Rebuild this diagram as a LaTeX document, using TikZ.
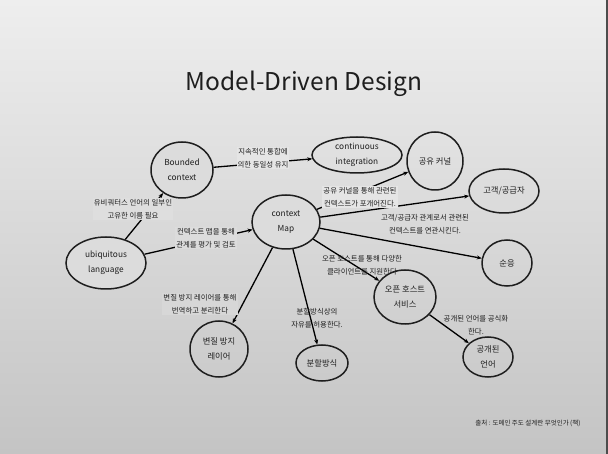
\documentclass[tikz,border=0pt]{standalone}
\usepackage{fontspec}
\setmainfont{Noto Sans CJK KR}
\usetikzlibrary{shapes.geometric, arrows.meta}
\definecolor{bgtop}{RGB}{238,238,238}
\definecolor{bgmid}{RGB}{229,229,229}
\definecolor{bgbot}{RGB}{196,196,196}
\definecolor{bubble}{RGB}{220,220,220}
\definecolor{ink}{RGB}{30,30,30}
\tikzset{
  bub/.style={ellipse, draw=ink, line width=1.5pt, inner sep=0pt, align=center, text=ink, font=\fontsize{8.3}{15}\selectfont},
  note/.style={align=center, inner sep=1pt, text=ink, font=\fontsize{7.4}{13.5}\selectfont},
  >={Stealth[length=5pt,width=4pt]}
}

\begin{document}
\begin{tikzpicture}[x=1pt,y=-1pt,line width=1.3pt]
\useasboundingbox (0,0) rectangle (608,454);
\shade[top color=bgtop, middle color=bgmid, bottom color=bgbot] (0,0) rectangle (608,454);
\fill[black!70] (606,0) rectangle (608,454);

\node[text=ink, font=\fontsize{24.5}{24}\selectfont] (title) at (304,84) {Model-Driven Design};

\node[bub, fill=bubble, minimum width=62pt, minimum height=56pt] (bounded) at (182,170) {Bounded\\context};
\node[bub, minimum width=90pt, minimum height=36pt] (ci) at (357,155) {continuous\\integration};
\node[bub, fill=bubble, minimum width=80pt, minimum height=52pt] (ubiq) at (106,263) {ubiquitous\\language};
\node[bub, fill=bubble, minimum width=68pt, minimum height=54pt] (ctxmap) at (286,222) {context\\Map};

\node[bub, minimum width=56pt, minimum height=58pt] (shared) at (435,161) {공유 커널};
\node[bub, minimum width=70pt, minimum height=44pt] (custsup) at (504,191) {고객/공급자};
\node[bub, minimum width=50pt, minimum height=46pt] (conform) at (507,263) {순응};
\node[bub, minimum width=62pt, minimum height=54pt] (ohs) at (405,297) {오픈 호스트\\서비스};
\node[bub, minimum width=50pt, minimum height=40pt] (publang) at (488,357) {공개된\\언어};
\node[bub, minimum width=52pt, minimum height=36pt] (sepways) at (322,363) {분할방식};
\node[bub, minimum width=58pt, minimum height=56pt] (acl) at (219,349) {변질 방지\\레이어};

\draw[->] (ubiq) -- (bounded);
\draw[->] (ubiq) -- (ctxmap);
\draw[->] (bounded) -- (ci);
\draw[->] (ctxmap) -- (shared);
\draw[->] (ctxmap) -- (custsup);
\draw[->] (ctxmap) -- (conform);
\draw[->] (ctxmap) -- (ohs);
\draw[->] (ctxmap) -- (sepways);
\draw[->] (ctxmap) -- (acl);
\draw[->] (ohs) -- (publang);

% 연결선 위의 설명
\node[note, fill=bgmid!97!black] (l1) at (133,209) {유비쿼터스 언어의 일부인\\고유한 이름 필요};
\node[note, fill=bgmid!96!black] (l2) at (206,238) {컨텍스트 맵을 통해\\관계를 평가 및 검토};
\node[note, fill=bgmid!100!black] (l3) at (263,158) {지속적인 통합에\\의한 동일성 유지};
\node[note, fill=bgmid!100!black] (l4) at (360,197) {공유 커널을 통해 관련된\\컨텍스트가 포개어진다.};
\node[note] (l5) at (425,224) {고객/공급자 관계로서 관련된\\컨텍스트를 연관시킨다.};
\node[note] (l6) at (362,265) {오픈 호스트를 통해 다양한\\클라이언트를 지원한다};
\node[note] (l7) at (317,318) {분할방식상의\\자유를 허용한다.};
\node[note, fill=bgmid!94!black] (l8) at (200,304) {변질 방지 레이어를 통해\\번역하고 분리한다};
\node[note] (l9) at (476,325) {공개된 언어를 공식화\\한다.};

\node[note, font=\fontsize{6.5}{8}\selectfont] (src) at (528,423) {출처 : 도메인 주도 설계란 무엇인가 (책)};
\end{tikzpicture}
\end{document}
